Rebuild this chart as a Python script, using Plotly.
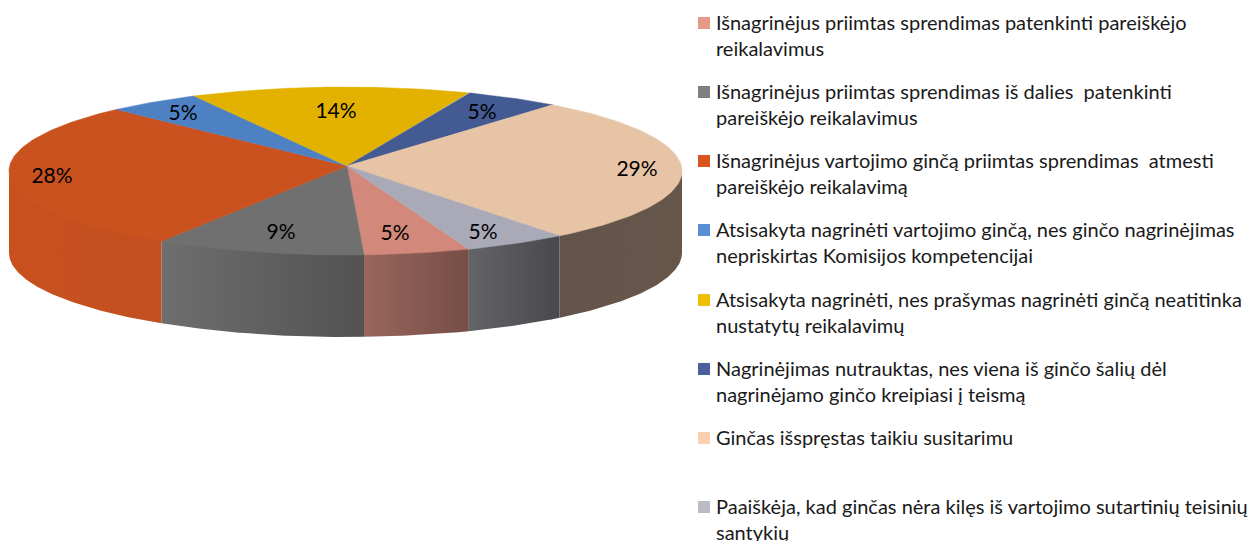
import numpy as np
import plotly.graph_objects as go

# data
categories = [
    "Išnagrinėjus priimtas sprendimas patenkinti pareiškėjo reikalavimus",
    "Išnagrinėjus priimtas sprendimas iš dalies  patenkinti pareiškėjo reikalavimus",
    "Išnagrinėjus vartojimo ginčą priimtas sprendimas  atmesti pareiškėjo reikalavimą",
    "Atsisakyta nagrinėti vartojimo ginčą, nes ginčo nagrinėjimas nepriskirtas Komisijos kompetencijai",
    "Atsisakyta nagrinėti, nes prašymas nagrinėti ginčą neatitinka nustatytų reikalavimų",
    "Nagrinėjimas nutrauktas, nes viena iš ginčo šalių dėl nagrinėjamo ginčo kreipiasi į teismą",
    "Ginčas išspręstas taikiu susitarimu",
    "Paaiškėja, kad ginčas nėra kilęs iš vartojimo sutartinių teisinių santykių",
]
legend_lines = [
    ["Išnagrinėjus priimtas sprendimas patenkinti pareiškėjo", "reikalavimus"],
    ["Išnagrinėjus priimtas sprendimas iš dalies  patenkinti", "pareiškėjo reikalavimus"],
    ["Išnagrinėjus vartojimo ginčą priimtas sprendimas  atmesti", "pareiškėjo reikalavimą"],
    ["Atsisakyta nagrinėti vartojimo ginčą, nes ginčo nagrinėjimas", "nepriskirtas Komisijos kompetencijai"],
    ["Atsisakyta nagrinėti, nes prašymas nagrinėti ginčą neatitinka", "nustatytų reikalavimų"],
    ["Nagrinėjimas nutrauktas, nes viena iš ginčo šalių dėl", "nagrinėjamo ginčo kreipiasi į teismą"],
    ["Ginčas išspręstas taikiu susitarimu"],
    ["Paaiškėja, kad ginčas nėra kilęs iš vartojimo sutartinių teisinių", "santykių"],
]
shares = [5.1, 10.1, 28.9, 4.5, 13.4, 4.6, 28.5, 5.0]
labels = ["5%", "9%", "28%", "5%", "14%", "5%", "29%", "5%"]

# styles
top_colors = ["#D2897B", "#707070", "#C9521F", "#4E81C4", "#E3B200", "#435A92", "#E7C4A6", "#A9A9B7"]
legend_colors = ["#E6988A", "#7F7F7F", "#D8551F", "#5B8FD3", "#F2BE00", "#4A5F9C", "#FBD0B0", "#BBBBC8"]
wall_colors = [("#9A665D", "#754E46"), ("#6E6E6E", "#525252"), ("#C8501E", "#C24F20"), None, None, None,
               ("#63534A", "#67564A"), ("#636368", "#48484D")]

# layout geometry (pixels)
W, H = 1249, 541
CX, CY, RX, RY, DEPTH = 345.5, 171.0, 336.5, 84.0, 82.0
APEX = (347.0, 166.0)
START = 158.5
label_xy = [(395, 234.5), (281, 233.5), (52, 177.5), (183, 115), (336, 113), (482, 114), (637, 171), (483, 233.5)]
legend_y = [21.5, 90.5, 159.5, 228.5, 298.5, 367.5, 436.5, 505.5]
LINE_GAP = 26
LEG_X, TXT_X = 704, 715
LEG_Y_OFFSET = 1.5
FONT = "Lato, Carlito, Calibri, sans-serif"


def arc(a0, a1, dy=0.0):
    t = np.radians(np.linspace(a0, a1, 90))
    return CX + RX * np.sin(t), CY - RY * np.cos(t) + dy


fig = go.Figure()
total = sum(shares)
edges = START + np.concatenate([[0], np.cumsum(shares)]) * 360.0 / total

# side walls (visible front half: 90..270 degrees clockwise from 12 o'clock)
for i in range(len(shares)):
    if wall_colors[i] is None:
        continue
    a0, a1 = edges[i], edges[i + 1]
    if a0 >= 360 or a1 > 360:
        a0, a1 = a0 - 360, a1 - 360
    a0, a1 = max(a0, 90), min(a1, 270)
    x1, y1 = arc(a0, a1, -1.0)  # tucked just under the top face so no seam shows
    x2, y2 = arc(a1, a0, DEPTH)
    c0, c1 = wall_colors[i]
    fig.add_trace(go.Scatter(
        x=np.r_[x1, x2], y=np.r_[y1, y2], mode="lines", fill="toself", line=dict(width=0),
        fillgradient=dict(type="horizontal", colorscale=[[0, c0], [1, c1]]),
        fillcolor=c0, hoverinfo="skip", showlegend=False))

# top faces
for i in range(len(shares)):
    x, y = arc(edges[i], edges[i + 1])
    fig.add_trace(go.Scatter(
        x=np.r_[APEX[0], x, APEX[0]], y=np.r_[APEX[1], y, APEX[1]], mode="lines", fill="toself",
        line=dict(width=0.5, color=top_colors[i]), fillcolor=top_colors[i], hoverinfo="skip", showlegend=False))

# percentage labels
fig.add_trace(go.Scatter(
    x=[p[0] for p in label_xy], y=[p[1] for p in label_xy], mode="text", text=labels,
    textposition="middle center", textfont=dict(family=FONT, size=21, color="#000000"),
    hoverinfo="skip", showlegend=False))

# legend keys
fig.add_trace(go.Scatter(
    x=[LEG_X] * len(categories), y=[v + LEG_Y_OFFSET for v in legend_y], mode="markers", text=categories,
    marker=dict(symbol="square", size=12, color=legend_colors, line=dict(width=0)),
    hoverinfo="text", showlegend=False))

# legend text
for ly, lines in zip(legend_y, legend_lines):
    for k, line in enumerate(lines):
        fig.add_annotation(x=TXT_X, y=ly + k * LINE_GAP, text=line, showarrow=False, xanchor="left",
                           yanchor="middle", xref="x", yref="y", align="left", borderpad=0,
                           font=dict(family=FONT, size=20, color="#1a1a1a"))

fig.update_layout(
    width=W, height=H, margin=dict(l=0, r=0, t=0, b=0), paper_bgcolor="white", plot_bgcolor="white",
    xaxis=dict(range=[0, W], visible=False, fixedrange=True),
    yaxis=dict(range=[H, 0], visible=False, fixedrange=True),
    showlegend=False,
)
fig.write_html("out.html", post_script="document.body.style.margin='0';document.body.style.overflow='hidden';",
               config={"displayModeBar": False})
